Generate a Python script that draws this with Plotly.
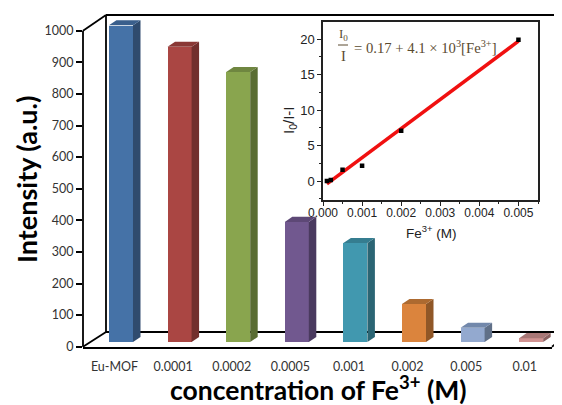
import plotly.graph_objects as go

W, H = 562, 405
PAGE_MARGIN = 8  # the browser's default body margin around the figure
categories = ["Eu-MOF", "0.0001", "0.0002", "0.0005", "0.001", "0.002", "0.005", "0.01"]
intensity = [1002, 934, 854, 380, 313, 120, 45, 12]
y_ticks = [0, 100, 200, 300, 400, 500, 600, 700, 800, 900, 1000]
front_colors = ["#4572a7", "#aa4643", "#89a54e", "#71588f", "#4198af", "#db843d", "#93a9cf", "#d19392"]
side_colors = ["#2f4b6e", "#722f2d", "#5a6d33", "#4a3a5f", "#2b6574", "#905727", "#607088", "#8a6060"]
top_colors = ["#3a5f8c", "#8a3835", "#6f8640", "#5d4876", "#357d90", "#ad6a30", "#7288ab", "#a87776"]

fe_conc = [0.0001, 0.0002, 0.0005, 0.001, 0.002, 0.005]
quench = [0.0, 0.15, 1.6, 2.15, 7.1, 19.9]
fit_x = [0.0001, 0.005]
fit_y = [-0.4, 19.7]

FW, FH = W - PAGE_MARGIN, H - PAGE_MARGIN
def px(x): return (x - PAGE_MARGIN) / FW
def py(y): return 1 - (y - PAGE_MARGIN) / FH

BAR_BASE = 15
DX, DY = 0.128, 16  # depth of the pseudo-3D bars, in axis units
BW = 0.41
Y_MAX = 1060        # room above the 1000 tick for the tallest bar's top face
PX_PER_UNIT = (346.7 - 30.7) / 1000

fig = go.Figure()
for i, v in enumerate(intensity):
    l, r = i - BW / 2, i + BW / 2
    t = BAR_BASE + v
    fig.add_trace(go.Scatter(x=[r, r + DX, r + DX, r, r], y=[BAR_BASE, BAR_BASE + DY, t + DY, t, BAR_BASE],
                             mode="none", fill="toself", fillcolor=side_colors[i], cliponaxis=False,
                             hoverinfo="skip", showlegend=False, xaxis="x", yaxis="y"))
    fig.add_trace(go.Scatter(x=[l, l + DX, r + DX, r, l], y=[t, t + DY, t + DY, t, t],
                             mode="none", fill="toself", fillcolor=top_colors[i], cliponaxis=False,
                             hoverinfo="skip", showlegend=False, xaxis="x", yaxis="y"))
fig.add_trace(go.Bar(x=list(range(len(categories))), y=intensity, base=BAR_BASE, width=BW,
                     marker=dict(color=front_colors, line=dict(width=0)), cliponaxis=False,
                     showlegend=False, xaxis="x", yaxis="y"))

fig.add_trace(go.Scatter(x=fit_x, y=fit_y, mode="lines", line=dict(color="#f01010", width=3.5),
                         showlegend=False, xaxis="x2", yaxis="y2"))
fig.add_trace(go.Scatter(x=fe_conc, y=quench, mode="markers", marker=dict(color="black", symbol="square", size=4.5),
                         showlegend=False, xaxis="x2", yaxis="y2"))

wall = [((83, 30.7), (83, 346.7)), ((83, 30.7), (106, 15)), ((106, 15), (562, 15)), ((106, 15), (106, 332)),
        ((106, 332), (562, 332)), ((83, 346.7), (106, 332)), ((552, 346.7), (562, 339))]
shapes = [dict(type="line", xref="paper", yref="paper", x0=px(a[0]), y0=py(a[1]), x1=px(b[0]), y1=py(b[1]),
               line=dict(color="black", width=1.8), layer="below") for a, b in wall]
# fraction bar of the inset equation
shapes.append(dict(type="line", xref="paper", yref="paper", x0=px(338), x1=px(348), y0=py(45), y1=py(45),
                   line=dict(color="#5a4a30", width=1)))

LATO = "Lato"
ARIAL = "Liberation Sans"
EQ = dict(family="Liberation Serif", size=14.7, color="#5a4a30")
annotations = [
    dict(text="<b>Intensity (a.u.)</b>", x=px(26), y=py(180), textangle=-90, font=dict(family=LATO, size=27, color="black")),
    dict(text="<b>concentration of Fe<sup>3+</sup> (M)</b>", x=px(318), y=py(388), font=dict(family=LATO, size=26.5, color="black")),
    dict(text="I<sub>0</sub>", x=px(343), y=py(34), font=dict(family="Liberation Serif", size=13, color="#5a4a30")),
    dict(text="I", x=px(343), y=py(56), font=EQ),
    dict(text="= 0.17 + 4.1 × 10<sup>3</sup>[Fe<sup>3+</sup>]", x=px(352), y=py(47), xanchor="left", font=EQ),
    dict(text="I<sub>0</sub>/I-I", x=px(290), y=py(120), textangle=-90, font=dict(family=ARIAL, size=15, color="#222")),
    dict(text="Fe<sup>3+</sup> (M)", x=px(431), y=py(232), font=dict(family=ARIAL, size=13.5, color="#222")),
]
for a in annotations:
    a.setdefault("xanchor", "center")
    a.update(xref="paper", yref="paper", showarrow=False, yanchor="middle")

fig.update_layout(
    width=FW, height=FH, margin=dict(l=0, r=0, t=0, b=0, autoexpand=False), paper_bgcolor="white", plot_bgcolor="rgba(0,0,0,0)",
    bargap=0, shapes=shapes, annotations=annotations,
    xaxis=dict(domain=[px(83), px(552)], range=[-0.648, 7.355], showgrid=False, zeroline=False,
               showline=True, linecolor="black", linewidth=2,
               tickmode="array", tickvals=[i - 0.11 for i in range(len(categories))], ticktext=categories,
               ticks="outside", ticklen=7, tickcolor="rgba(0,0,0,0)",
               tickfont=dict(family=LATO, size=12.5, color="#333"), anchor="y"),
    yaxis=dict(domain=[py(346.7), py(346.7 - Y_MAX * PX_PER_UNIT)], range=[0, Y_MAX], showgrid=False, zeroline=False,
               showline=False, tickmode="array", tickvals=y_ticks,
               ticks="outside", ticklen=6, tickwidth=2, tickcolor="black",
               tickfont=dict(family=LATO, size=12.5, color="#333"), anchor="x"),
    xaxis2=dict(domain=[px(323), px(538)], range=[0, 0.0055], showgrid=False, zeroline=False,
                showline=True, mirror=True, linecolor="#222", linewidth=1.5, tickmode="linear", dtick=0.001,
                tickformat=".3f", ticks="outside", ticklen=4, tickcolor="#222", ticklabelstandoff=-3,
                minor=dict(dtick=0.0005, ticks="outside", ticklen=2, tickcolor="#222"),
                tickfont=dict(family=ARIAL, size=12, color="#222"), anchor="y2"),
    yaxis2=dict(domain=[py(200), py(21.7)], range=[-2.67, 22.44], showgrid=False, zeroline=False,
                showline=True, mirror=True, linecolor="#222", linewidth=1.5, tickmode="linear", dtick=5,
                ticks="outside", ticklen=4, tickcolor="#222",
                minor=dict(dtick=2.5, ticks="outside", ticklen=2, tickcolor="#222"),
                tickfont=dict(family=ARIAL, size=13, color="#222"), anchor="x2"),
)
fig.write_html("out.html")
